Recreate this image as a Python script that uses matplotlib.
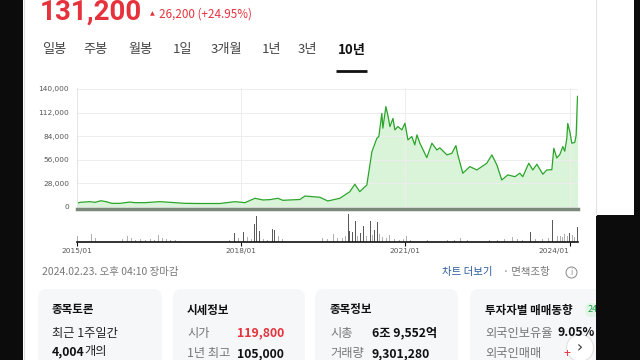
import matplotlib
matplotlib.use('Agg')
import matplotlib.pyplot as plt
from matplotlib.patches import FancyBboxPatch, Rectangle, Circle
import pandas as pd

plt.rcParams['font.family'] = ['Noto Sans CJK KR', 'DejaVu Sans']

# ---------------- data ----------------
price_dates = [
    '2015-01-02', '2015-01-23', '2015-03-31', '2015-05-03', '2015-06-12', '2015-07-15',
    '2015-08-24', '2015-10-17', '2015-12-22', '2016-01-25', '2016-03-31', '2016-07-09',
    '2016-09-14', '2016-12-23', '2017-04-02', '2017-08-13', '2017-11-22', '2018-01-27',
    '2018-04-04', '2018-05-27', '2018-07-13', '2018-09-04', '2018-10-07', '2019-01-29',
    '2019-03-03', '2019-06-11', '2019-08-03', '2019-10-22', '2019-12-28', '2020-01-30',
    '2020-03-03', '2020-04-19', '2020-05-23', '2020-06-25', '2020-07-08', '2020-07-28',
    '2020-08-04', '2020-08-24', '2020-09-06', '2020-09-20', '2020-10-10', '2020-10-23',
    '2020-11-12', '2020-12-09', '2020-12-29', '2021-01-18', '2021-02-13', '2021-03-05',
    '2021-03-19', '2021-04-08', '2021-05-24', '2021-06-27', '2021-07-30', '2021-08-19',
    '2021-10-05', '2021-11-07', '2021-12-04', '2021-12-17', '2022-01-19', '2022-03-07',
    '2022-04-23', '2022-05-26', '2022-06-28', '2022-08-01', '2022-09-03', '2022-10-06',
    '2022-11-15', '2023-01-02', '2023-02-03', '2023-02-23', '2023-04-04', '2023-05-01',
    '2023-05-28', '2023-07-07', '2023-08-02', '2023-09-05', '2023-09-18', '2023-10-08',
    '2023-10-28', '2023-11-17', '2023-11-30', '2023-12-14', '2023-12-20', '2024-01-03',
    '2024-01-16', '2024-02-05', '2024-02-14', '2024-02-23',
]
price_values = [
    4000, 5200, 6000, 5200, 7100, 6000,
    4000, 4000, 5500, 4800, 4800, 6000,
    5200, 4000, 3800, 3800, 6000, 4800,
    10000, 8000, 8400, 10000, 7600, 8600,
    12700, 11200, 6800, 10000, 17900, 26700,
    17900, 25800, 65500, 81500, 83400, 111000,
    93400, 119000, 109000, 95300, 105000, 91400,
    95300, 91400, 99300, 79500, 83400, 73500,
    85400, 75500, 58400, 75500, 67500, 70000,
    61600, 63500, 72700, 61600, 39800, 47700,
    43700, 47700, 51700, 61600, 49700, 31800,
    37800, 35700, 39800, 35700, 51700, 43700,
    50500, 38600, 43700, 44000, 69500, 58000,
    62000, 71500, 66000, 81500, 99000, 89000,
    75500, 76500, 85000, 131200,
]

volume_dates = [
    '2015-01-05', '2015-01-23', '2015-02-19', '2015-03-17', '2015-04-12', '2015-05-09',
    '2015-06-05', '2015-06-25', '2015-07-15', '2015-08-11', '2015-09-07', '2015-10-04',
    '2015-10-31', '2015-12-04', '2015-12-31', '2016-01-27', '2016-03-01', '2016-04-04',
    '2016-05-07', '2016-06-03', '2016-06-30', '2016-07-27', '2016-08-23', '2016-09-19',
    '2016-10-23', '2016-11-26', '2017-02-01', '2017-04-09', '2017-06-15', '2017-08-21',
    '2017-10-14', '2017-11-17', '2017-12-14', '2018-01-17', '2018-02-13', '2018-03-12',
    '2018-04-01', '2018-04-15', '2018-05-05', '2018-06-01', '2018-06-28', '2018-08-01',
    '2018-08-14', '2018-09-10', '2018-10-07', '2018-11-10', '2018-12-20', '2019-01-29',
    '2019-03-24', '2019-04-13', '2019-05-23', '2019-06-26', '2019-07-29', '2019-09-08',
    '2019-10-05', '2019-11-08', '2019-11-28', '2019-12-18', '2019-12-25', '2020-01-14',
    '2020-02-03', '2020-02-17', '2020-03-08', '2020-03-28', '2020-04-17', '2020-05-12',
    '2020-05-26', '2020-06-08', '2020-06-28', '2020-07-12', '2020-08-01', '2020-08-27',
    '2020-09-16', '2020-10-20', '2020-11-22', '2020-12-18', '2021-01-07', '2021-02-03',
    '2021-03-20', '2021-05-26', '2021-08-01', '2021-10-07', '2021-11-23', '2022-01-02',
    '2022-02-17', '2022-04-25', '2022-07-14', '2022-09-06', '2022-10-22', '2022-12-14',
    '2023-01-17', '2023-02-20', '2023-04-15', '2023-05-19', '2023-07-05', '2023-08-14',
    '2023-09-10', '2023-09-11', '2023-10-13', '2023-11-02', '2023-11-15', '2023-11-28',
    '2023-12-18', '2024-01-01', '2024-01-21', '2024-02-05', '2024-02-23',
]
volume_values = [
    6, 3, 2, 3, 8, 4,
    3, 6, 5, 2, 3, 2,
    3, 6, 4, 2, 3, 2,
    3, 2, 7, 4, 3, 2,
    2, 1, 1, 1, 1, 1,
    2, 9, 4, 10, 5, 3,
    18, 26, 11, 3, 2, 13,
    12, 6, 3, 2, 2, 2,
    10, 3, 3, 4, 3, 8,
    4, 4, 6, 28, 11, 10,
    21, 6, 9, 16, 6, 21,
    7, 12, 20, 8, 5, 4,
    7, 3, 2, 3, 6, 2,
    2, 2, 1, 2, 2, 4,
    2, 1, 2, 2, 3, 5,
    3, 2, 10, 3, 3, 4,
    3, 22, 6, 6, 5, 8,
    6, 9, 7, 5, 15,
]

y_ticks = [0, 28000, 56000, 84000, 112000, 140000]
x_tick_dates = ['2015-01-01', '2018-01-01', '2021-01-01', '2024-01-01']
x_tick_labels = ['2015/01', '2018/01', '2021/01', '2024/01']
tabs = ['일봉', '주봉', '월봉', '1일', '3개월', '1년', '3년', '10년']

# ---------------- figure ----------------
W, H = 640, 360
fig = plt.figure(figsize=(6.4, 3.6), dpi=100)
fig.patch.set_facecolor('white')
bg = fig.add_axes([0, 0, 1, 1])
bg.set_xlim(0, W)
bg.set_ylim(H, 0)
bg.axis('off')


def rect(x0, y0, x1, y1):
    return [x0 / W, 1 - y1 / H, (x1 - x0) / W, (y1 - y0) / H]


RED = '#e5323c'
GREEN = '#2aa52a'
FILL = '#d9f4d9'

# header
bg.text(40, 20, '131,200', fontsize=20, fontweight='bold', color=RED,
        ha='left', va='baseline', family=['Roboto', 'DejaVu Sans'])
bg.text(150, 14, '▲', fontsize=4.5, color=RED, ha='left', va='center', family=['DejaVu Sans'])
bg.text(159, 14, '26,200 (+24.95%)', fontsize=8.4, color=RED, ha='left', va='center')

tab_x = [42, 83, 128, 173, 211, 262, 298, 338]
for t, x in zip(tabs, tab_x):
    bold = (t == '10년')
    bg.text(x, 50, t, fontsize=9.5, color='#111' if bold else '#444',
            fontweight='bold' if bold else 'normal', ha='left', va='center')
bg.plot([336, 367], [70.5, 70.5], color='#111', lw=2, solid_capstyle='butt')

# ---------------- price chart ----------------
pd_dates = pd.to_datetime(price_dates)
vd_dates = pd.to_datetime(volume_dates)
x_left = pd.Timestamp('2015-01-01')
x_right = pd.Timestamp('2024-02-23')

ax = fig.add_axes(rect(76.7, 88, 577.5, 209))
y_bottom = -(209 - 206.7) / 117.7 * 140000
y_top = y_bottom + 121 * 140000 / 117.7
ax.set_ylim(y_bottom, y_top)
ax.set_xlim(x_left, x_right)
ax.fill_between(pd_dates, price_values, 0, color=FILL, lw=0)
ax.plot(pd_dates, price_values, color=GREEN, lw=0.9)
ax.set_yticks(y_ticks)
ax.set_yticklabels([f'{v:,}' for v in y_ticks])
ax.tick_params(axis='y', length=0, pad=5.5, labelsize=5.3, labelcolor='#555')
for lab in ax.get_yticklabels():
    lab.set_family(['DejaVu Sans'])
ax.set_xticks(pd.to_datetime(x_tick_dates[1:]))
ax.tick_params(axis='x', length=0, labelbottom=False)
ax.grid(True, color='#ededed', lw=0.7)
for s in ['top', 'right']:
    ax.spines[s].set_visible(False)
ax.spines['left'].set_color('#e6e6e6')
ax.spines['left'].set_linewidth(0.7)
ax.spines['bottom'].set_color('#7b897b')
ax.spines['bottom'].set_linewidth(2.5)
ax.set_facecolor('none')

# ---------------- volume chart ----------------
axv = fig.add_axes(rect(76.7, 213, 577.5, 242))
axv.set_xlim(x_left, x_right)
axv.set_ylim(0, 29)
vcolors = ['#5a5a5a' if v >= 9 else '#b0b0b0' for v in volume_values]
axv.bar(vd_dates, volume_values, width=5.5, color=vcolors, lw=0)
for s in ['top', 'right', 'left']:
    axv.spines[s].set_visible(False)
axv.spines['bottom'].set_color('#111')
axv.spines['bottom'].set_linewidth(1.2)
axv.set_yticks([])
axv.set_xticks(pd.to_datetime(x_tick_dates))
axv.set_xticklabels(x_tick_labels)
axv.tick_params(axis='x', length=3, width=0.8, color='#111', pad=1.5,
                labelsize=5.3, labelcolor='#555')
for lab in axv.get_xticklabels():
    lab.set_family(['DejaVu Sans'])
axv.get_xticklabels()[-1].set_horizontalalignment('right')
axv.set_facecolor('none')

# ---------------- footer ----------------
bg.text(42, 272, '2024.02.23. 오후 04:10 장마감', fontsize=7.5, color='#777',
        ha='left', va='center')
bg.text(442, 272, '차트 더보기', fontsize=7.5, color='#2a5b9a', ha='left', va='center')
bg.text(503, 272, '· 면책조항', fontsize=7.5, color='#777', ha='left', va='center')
bg.add_patch(Circle((571.5, 272.5), 5.5, fill=False, ec='#888', lw=0.7))
bg.text(571.5, 272.5, 'i', fontsize=5.5, color='#888', ha='center', va='center',
        family=['DejaVu Sans'])

cards = [(38, 162), (173, 305), (315, 458), (470, 640)]
for x0, x1 in cards:
    bg.add_patch(FancyBboxPatch((x0, 289), x1 - x0, 100,
                                boxstyle='round,pad=0,rounding_size=9',
                                fc='#f6f7f9', ec='none'))

TS = 8.8
bg.text(52, 310, '종목토론', fontsize=8.3, fontweight='bold', color='#111', va='center')
bg.text(52, 333, '최근 1주일간', fontsize=TS, color='#222', va='center')
bg.text(52, 352, '4,004', fontsize=TS, fontweight='bold', color='#111', va='center')
bg.text(84, 352, '개의', fontsize=TS, color='#222', va='center')

bg.text(187, 310, '시세정보', fontsize=8.3, fontweight='bold', color='#111', va='center')
bg.text(187, 333, '시가', fontsize=TS, color='#777', va='center')
bg.text(284, 333, '119,800', fontsize=TS, fontweight='bold', color=RED, va='center', ha='right')
bg.text(187, 354, '1년 최고', fontsize=TS, color='#777', va='center')
bg.text(284, 354, '105,000', fontsize=TS, fontweight='bold', color='#111', va='center', ha='right')

bg.text(330, 310, '종목정보', fontsize=8.3, fontweight='bold', color='#111', va='center')
bg.text(330, 333, '시총', fontsize=TS, color='#777', va='center')
bg.text(372, 333, '6조 9,552억', fontsize=TS, fontweight='bold', color='#111', va='center')
bg.text(330, 354, '거래량', fontsize=TS, color='#777', va='center')
bg.text(372, 354, '9,301,280', fontsize=TS, fontweight='bold', color='#111', va='center')

bg.text(485, 310, '투자자별 매매동향', fontsize=8.3, fontweight='bold', color='#111', va='center')
bg.add_patch(FancyBboxPatch((585, 303), 16, 14, boxstyle='round,pad=0,rounding_size=6',
                            fc='#e3f5e6', ec='none'))
bg.text(588, 310, '24', fontsize=6.5, color='#1e9e4a', va='center')
bg.text(485, 333, '외국인보유율', fontsize=TS, color='#777', va='center')
bg.text(558, 333, '9.05%', fontsize=TS, fontweight='bold', color='#111', va='center')
bg.text(485, 354, '외국인매매', fontsize=TS, color='#777', va='center')
bg.text(563, 354, '+', fontsize=TS, color=RED, va='center')
bg.add_patch(Circle((580, 348), 13.5, fc='white', ec='#e2e2e2', lw=0.8))
bg.text(580, 348, '›', fontsize=11, color='#333', ha='center', va='center',
        family=['DejaVu Sans'])

# frame: dark side strips and panel border
bg.add_patch(Rectangle((0, 0), 23, H, fc='#0c0c0c', ec='none', zorder=5))
bg.plot([23.5, 23.5], [0, H], color='#dddddd', lw=0.8, zorder=5)
bg.add_patch(Rectangle((634, 0), 6, H, fc='#0c0c0c', ec='none', zorder=5))
bg.add_patch(Rectangle((596, 215), 44, H - 215, fc='#0c0c0c', ec='none', zorder=5))
bg.plot([595.5, 595.5], [0, 215], color='#e4e4e4', lw=0.8, zorder=5)

fig.savefig('out.png', dpi=100, facecolor='white')
